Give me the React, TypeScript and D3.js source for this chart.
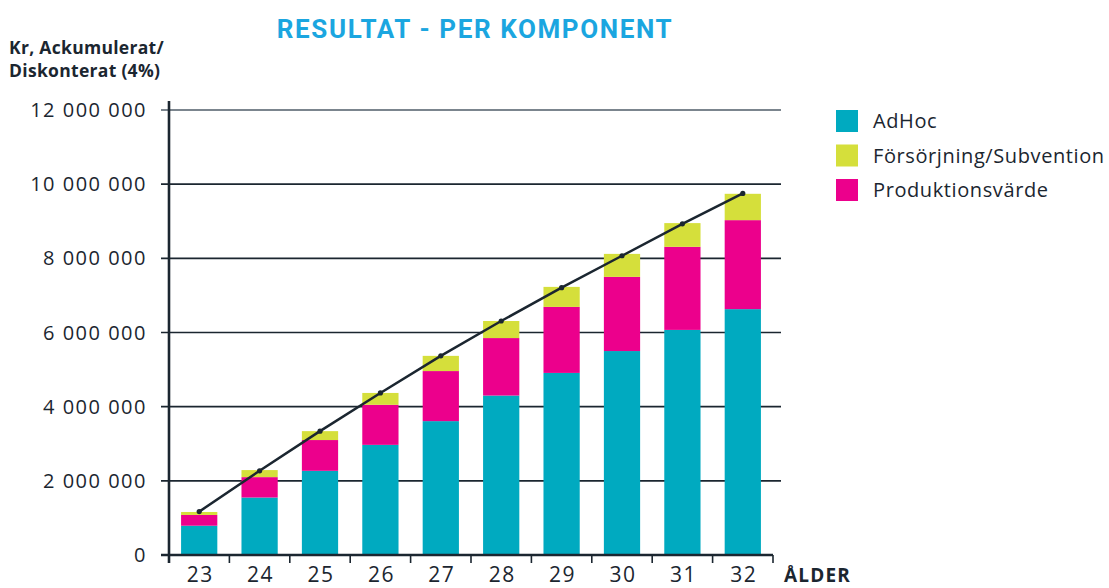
import React from "react";
import * as d3 from "d3";

const width = 1109;
const height = 588;
const margin = { top: 110, right: 336, bottom: 33, left: 169 };

const ages = ["23", "24", "25", "26", "27", "28", "29", "30", "31", "32"];
const adHoc = [0.79, 1.55, 2.27, 2.97, 3.61, 4.3, 4.91, 5.5, 6.07, 6.63];
const produktion = [0.29, 0.55, 0.83, 1.08, 1.35, 1.55, 1.78, 2.0, 2.24, 2.4];
const forsorjning = [0.08, 0.19, 0.24, 0.32, 0.41, 0.46, 0.54, 0.62, 0.64, 0.71];
const totals = [1.17, 2.27, 3.34, 4.37, 5.37, 6.31, 7.21, 8.07, 8.93, 9.75];
const yTicks = [0, 2, 4, 6, 8, 10, 12];

const colors = {
  adHoc: "#00aac0",
  forsorjning: "#d5df3b",
  produktion: "#ec008c",
};

const legendItems = [
  { label: "AdHoc", color: colors.adHoc },
  { label: "Försörjning/Subvention", color: colors.forsorjning },
  { label: "Produktionsvärde", color: colors.produktion },
];

const font = "'Open Sans', 'DejaVu Sans', sans-serif";
const ink = "#1b2630";

export default function App() {
  const x = d3
    .scaleBand()
    .domain(ages)
    .range([margin.left, width - margin.right])
    .paddingInner(0.4)
    .paddingOuter(0.2);
  const step = x.step();
  const y = d3
    .scaleLinear()
    .domain([0, 12])
    .range([height - margin.bottom, margin.top]);

  const rows = ages.map((age, i) => ({
    age,
    adHoc: adHoc[i],
    produktion: produktion[i],
    forsorjning: forsorjning[i],
  }));
  const stack = d3
    .stack<any>()
    .keys(["adHoc", "produktion", "forsorjning"])(rows);

  const line = d3
    .line<number>()
    .x((_, i) => (x(ages[i]) as number) + x.bandwidth() / 2)
    .y((d) => y(d));

  const fmt = (v: number) => (v === 0 ? "0" : `${v} 000 000`);

  const x0 = margin.left;
  const x1 = width - margin.right;
  const boundaries = d3.range(ages.length + 1).map((i) => margin.left + i * step);

  return (
    <svg width={width} height={height} style={{ position: "absolute", left: 0, top: 0 }}>
      <text
        x={475}
        y={38}
        textAnchor="middle"
        fill="#1ba6e0"
        fontFamily="Roboto, sans-serif"
        fontWeight="bold"
        fontSize={26}
        letterSpacing={1.6}
      >
        RESULTAT - PER KOMPONENT
      </text>
      <text fontFamily={font} fontWeight="bold" fontSize={17.5} fill={ink} letterSpacing={0.3}>
        <tspan x={9} y={54}>Kr, Ackumulerat/</tspan>
        <tspan x={9} y={77}>Diskonterat (4%)</tspan>
      </text>

      {yTicks.map((t) => (
        <g key={t}>
          {t > 0 && (
            <line
              x1={x0 - 8}
              x2={x1 + 8}
              y1={y(t)}
              y2={y(t)}
              stroke={t === 12 ? "#4f5d68" : ink}
              strokeWidth={1.6}
            />
          )}
          <text
            x={147}
            y={y(t)}
            dy="0.35em"
            textAnchor="end"
            fontFamily={font}
            fontSize={20}
            letterSpacing={1.5}
            fill={ink}
          >
            {fmt(t)}
          </text>
        </g>
      ))}

      {stack.map((layer) => (
        <g key={layer.key} fill={(colors as any)[layer.key]}>
          {layer.map((d, i) => (
            <rect
              key={i}
              x={x(ages[i])}
              y={y(d[1])}
              width={x.bandwidth()}
              height={y(d[0]) - y(d[1])}
            />
          ))}
        </g>
      ))}

      <path d={line(totals) || ""} fill="none" stroke={ink} strokeWidth={2.5} />
      {totals.map((v, i) => (
        <circle
          key={i}
          cx={(x(ages[i]) as number) + x.bandwidth() / 2}
          cy={y(v)}
          r={2.6}
          fill={ink}
        />
      ))}

      <line x1={x0} x2={x0} y1={101} y2={y(0) + 8} stroke={ink} strokeWidth={2.6} />
      <line x1={x0 - 8} x2={x1} y1={y(0)} y2={y(0)} stroke={ink} strokeWidth={2.6} />
      {boundaries.map((b, i) => (
        <line key={i} x1={b} x2={b} y1={y(0)} y2={y(0) + 8} stroke={ink} strokeWidth={1.6} />
      ))}
      {ages.map((a) => (
        <text
          key={a}
          x={(x(a) as number) + x.bandwidth() / 2 + 1}
          y={582}
          textAnchor="middle"
          fontFamily={font}
          fontSize={21}
          letterSpacing={1.5}
          fill={ink}
        >
          {a}
        </text>
      ))}
      <text
        x={784}
        y={582}
        fontFamily={font}
        fontWeight="bold"
        fontSize={19}
        letterSpacing={1.2}
        fill={ink}
      >
        ÅLDER
      </text>

      {legendItems.map((item, i) => (
        <g key={item.label} transform={`translate(836, ${110 + i * 34.5})`}>
          <rect width={22} height={22} fill={item.color} />
          <text
            x={37}
            y={11}
            dy="0.35em"
            fontFamily={font}
            fontSize={20}
            letterSpacing={0.6}
            fill={ink}
          >
            {item.label}
          </text>
        </g>
      ))}
    </svg>
  );
}
